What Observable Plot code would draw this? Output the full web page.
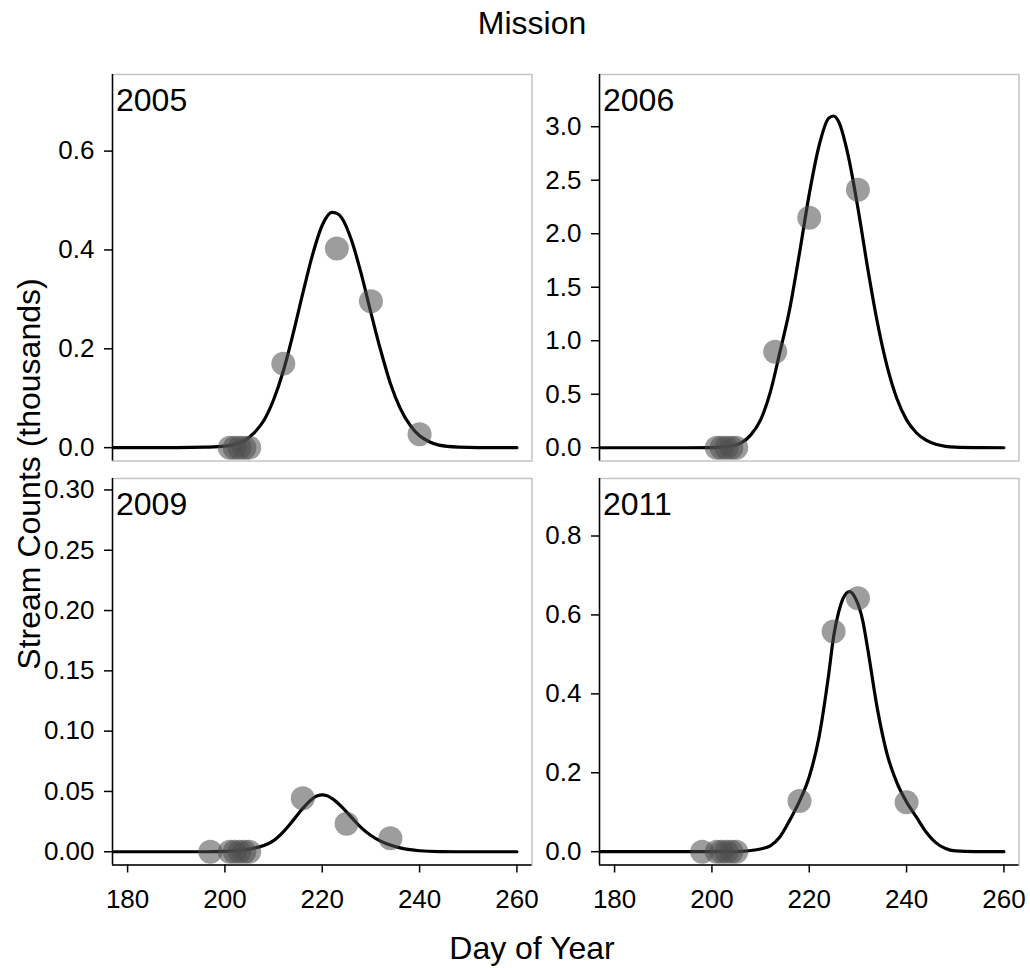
<!DOCTYPE html>
<html>
<head>
<meta charset="utf-8">
<script src="https://cdn.jsdelivr.net/npm/d3@7"></script>
<script src="https://cdn.jsdelivr.net/npm/@observablehq/plot@0.6"></script>
<style>
  html, body { margin: 0; padding: 0; background: #fff; }
  #root { position: relative; width: 1030px; height: 968px; overflow: hidden; background: #fff;
          font-family: "Liberation Sans", Arial, sans-serif; }
  #root svg { position: absolute; overflow: visible; }
</style>
</head>
<body>
<div id="root"></div>
<script>
// ---------- data ----------
const chartTitle = "Mission";
const xTitle = "Day of Year";
const yTitle = "Stream Counts (thousands)";
const xTicks = [180, 200, 220, 240, 260];
const xDomain = [176.9, 263.1];

// 2005
const obsDay2005 = [201, 202, 203, 204, 205, 212, 223, 230, 240];
const obsCount2005 = [0, 0, 0, 0, 0, 0.170, 0.403, 0.296, 0.027];
const fitDay2005 = [177, 190, 196, 200, 204, 206, 208, 210, 212, 214, 216, 218, 220, 222, 223, 224, 226, 228, 230, 232, 234, 236, 238, 240, 242, 244, 248, 252, 260];
const fitCount2005 = [0, 0, 0.001, 0.003, 0.014, 0.03, 0.055, 0.097, 0.155, 0.230, 0.312, 0.390, 0.450, 0.476, 0.474, 0.465, 0.420, 0.352, 0.273, 0.197, 0.130, 0.080, 0.046, 0.024, 0.012, 0.005, 0.001, 0, 0];
const yTicks2005 = [0, 0.2, 0.4, 0.6];
const yDomain2005 = [-0.027, 0.755];

// 2006
const obsDay2006 = [201, 202, 203, 204, 205, 213, 220, 230];
const obsCount2006 = [0, 0, 0, 0, 0, 0.897, 2.15, 2.41];
const fitDay2006 = [177, 195, 200, 202, 204, 206, 208, 210, 212, 214, 216, 218, 220, 222, 224, 225, 226, 228, 230, 232, 234, 236, 238, 240, 242, 244, 246, 248, 250, 254, 260];
const fitCount2006 = [0, 0, 0.001, 0.005, 0.016, 0.045, 0.12, 0.26, 0.52, 0.90, 1.30, 1.82, 2.37, 2.82, 3.08, 3.10, 3.05, 2.73, 2.24, 1.68, 1.17, 0.76, 0.46, 0.26, 0.14, 0.07, 0.032, 0.013, 0.005, 0.001, 0];
const yTicks2006 = [0, 0.5, 1.0, 1.5, 2.0, 2.5, 3.0];
const yDomain2006 = [-0.124, 3.488];

// 2009
const obsDay2009 = [197, 201, 202, 203, 204, 205, 216, 225, 234];
const obsCount2009 = [0, 0, 0, 0, 0, 0, 0.0443, 0.0232, 0.0111];
const fitDay2009 = [177, 196, 200, 204, 206, 208, 210, 212, 214, 216, 218, 219, 220, 221, 222, 224, 226, 228, 230, 232, 234, 236, 238, 240, 244, 248, 260];
const fitCount2009 = [0, 0, 0.0003, 0.0015, 0.003, 0.0052, 0.0092, 0.0165, 0.026, 0.036, 0.0440, 0.0465, 0.0472, 0.0465, 0.0442, 0.0372, 0.0285, 0.0200, 0.0135, 0.0088, 0.0055, 0.0032, 0.0017, 0.0008, 0.0001, 0, 0];
const yTicks2009 = [0, 0.05, 0.10, 0.15, 0.20, 0.25, 0.30];
const yDomain2009 = [-0.011, 0.3095];

// 2011
const obsDay2011 = [198, 201, 202, 203, 204, 205, 218, 225, 230, 240];
const obsCount2011 = [0, 0, 0, 0, 0, 0, 0.1285, 0.558, 0.642, 0.125];
const fitDay2011 = [177, 200, 204, 206, 208, 210, 212, 214, 216, 218, 220, 222, 224, 225, 226, 227, 228.3, 229.5, 231, 232, 234, 236, 238, 240, 242, 244, 246, 248, 250, 254, 260];
const fitCount2011 = [0, 0, 0.0003, 0.001, 0.003, 0.007, 0.015, 0.038, 0.080, 0.128, 0.190, 0.290, 0.450, 0.545, 0.605, 0.643, 0.659, 0.642, 0.585, 0.515, 0.362, 0.247, 0.175, 0.126, 0.088, 0.050, 0.023, 0.008, 0.002, 0, 0];
const yTicks2011 = [0, 0.2, 0.4, 0.6, 0.8];
const yDomain2011 = [-0.0337, 0.9457];

// ---------- layout ----------
const root = document.getElementById("root");
const FONT = '"Liberation Sans", Arial, sans-serif';
const PW = 419.5, PH = 386.5;
const colLeft = [111.5, 598.5];
const rowTop = [73.5, 477.5];

function panel(cfg) {
  const mL = 100, mR = 10, mT = 10, mB = cfg.showX ? 70 : 10;
  const obs = cfg.obsDay.map((d, i) => ({day: d, count: cfg.obsCount[i]}));
  const fit = cfg.fitDay.map((d, i) => ({day: d, count: cfg.fitCount[i]}));
  const marks = [
    Plot.frame({stroke: "#c4c4c4", strokeWidth: 1.5}),
    Plot.line(fit, {x: "day", y: "count", stroke: "black", strokeWidth: 3.2, curve: "monotone-x", clip: true}),
    Plot.dot(obs, {x: "day", y: "count", r: 12, fill: "#4d4d4d", fillOpacity: 0.55}),
    Plot.ruleX([xDomain[0]], {stroke: "black", strokeWidth: 1.5}),
    Plot.axisY({ticks: cfg.yTicks, tickFormat: cfg.yFormat, tickSize: 8, tickPadding: 10,
                fontSize: 26, label: null, stroke: "black", strokeWidth: 1.5, fill: "black"}),
    Plot.text([cfg.year], {text: d => d, frameAnchor: "top-left", lineAnchor: "top",
                           dx: 3.5, dy: 13.5, fontSize: 32, fill: "black"})
  ];
  if (cfg.showX) {
    marks.push(
      Plot.ruleY([cfg.yDomain[0]], {stroke: "black", strokeWidth: 1.5}),
      Plot.axisX({ticks: xTicks, tickSize: 8, tickPadding: 17, fontSize: 26, label: null,
                  stroke: "black", strokeWidth: 1.5, fill: "black"})
    );
  }
  const svg = Plot.plot({
    width: mL + PW + mR,
    height: mT + PH + mB,
    marginLeft: mL, marginRight: mR, marginTop: mT, marginBottom: mB,
    x: {domain: xDomain, axis: cfg.showX ? undefined : null},
    y: {domain: cfg.yDomain},
    style: {fontFamily: FONT, color: "black", background: "transparent", overflow: "visible"},
    marks
  });
  svg.style.left = (cfg.left - mL) + "px";
  svg.style.top = (cfg.top - mT) + "px";
  root.appendChild(svg);
}

const f1 = d3.format(".1f"), f2 = d3.format(".2f");
panel({year: "2005", obsDay: obsDay2005, obsCount: obsCount2005, fitDay: fitDay2005, fitCount: fitCount2005,
       yTicks: yTicks2005, yDomain: yDomain2005, yFormat: f1, left: colLeft[0], top: rowTop[0], showX: false});
panel({year: "2006", obsDay: obsDay2006, obsCount: obsCount2006, fitDay: fitDay2006, fitCount: fitCount2006,
       yTicks: yTicks2006, yDomain: yDomain2006, yFormat: f1, left: colLeft[1], top: rowTop[0], showX: false});
panel({year: "2009", obsDay: obsDay2009, obsCount: obsCount2009, fitDay: fitDay2009, fitCount: fitCount2009,
       yTicks: yTicks2009, yDomain: yDomain2009, yFormat: f2, left: colLeft[0], top: rowTop[1], showX: true});
panel({year: "2011", obsDay: obsDay2011, obsCount: obsCount2011, fitDay: fitDay2011, fitCount: fitCount2011,
       yTicks: yTicks2011, yDomain: yDomain2011, yFormat: f1, left: colLeft[1], top: rowTop[1], showX: true});

// ---------- titles ----------
const ns = "http://www.w3.org/2000/svg";
const over = document.createElementNS(ns, "svg");
over.setAttribute("width", 1030);
over.setAttribute("height", 968);
over.style.left = "0px"; over.style.top = "0px"; over.style.pointerEvents = "none";
function addText(txt, x, y, size, rotate) {
  const t = document.createElementNS(ns, "text");
  t.textContent = txt;
  t.setAttribute("x", x); t.setAttribute("y", y);
  t.setAttribute("text-anchor", "middle");
  t.setAttribute("font-size", size);
  t.setAttribute("font-family", FONT);
  t.setAttribute("fill", "black");
  if (rotate) t.setAttribute("transform", `rotate(-90 ${x} ${y})`);
  over.appendChild(t);
}
addText(chartTitle, 532, 34, 32, false);
addText(xTitle, 532, 959, 32, false);
addText(yTitle, 40, 474, 32, true);
root.appendChild(over);
</script>
</body>
</html>
